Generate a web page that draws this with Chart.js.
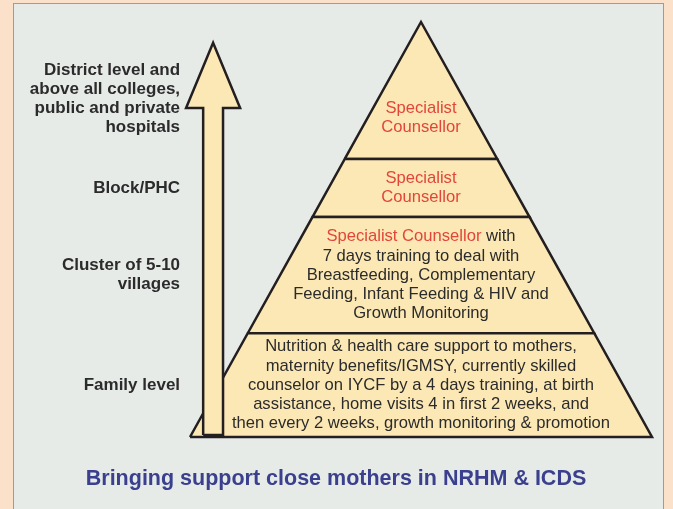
<!DOCTYPE html>
<html lang="en">
<head>
  <meta charset="UTF-8" />
  <title>Bringing support close mothers in NRHM &amp; ICDS</title>
  <script src="https://cdn.jsdelivr.net/npm/chart.js@4.4.1/dist/chart.umd.min.js"></script>
  <style>
    * { box-sizing: border-box; margin: 0; padding: 0; }
    body {
      width: 673px;
      height: 509px;
      overflow: hidden;
      background: #fbe1c9;
      position: relative;
    }
    .panel {
      position: absolute;
      left: 13px;
      top: 3px;
      width: 651px;
      height: 540px;
      background: #e7ebe8;
      border: 1px solid #9c9c98;
    }
    canvas {
      position: absolute;
      left: 0;
      top: 0;
    }
  </style>
</head>
<body>
  <div class="panel"></div>
  <canvas id="pyramid" width="673" height="509"></canvas>

  <script>
    // tier boundaries, bottom (0) to apex (100)
    const tierLevels = [0, 25, 53, 67, 100];

    // text inside each tier, bottom tier first
    const tierTexts = [
      ['Nutrition & health care support to mothers,',
       'maternity benefits/IGMSY, currently skilled',
       'counselor on IYCF by a 4 days training, at birth',
       'assistance, home visits 4 in first 2 weeks, and',
       'then every 2 weeks, growth monitoring & promotion'],
      ['Specialist Counsellor with',
       '7 days training to deal with',
       'Breastfeeding, Complementary',
       'Feeding, Infant Feeding & HIV and',
       'Growth Monitoring'],
      ['Specialist', 'Counsellor'],
      ['Specialist', 'Counsellor']
    ];

    // level names on the left, bottom tier first
    const levelLabels = [
      ['Family level'],
      ['Cluster of 5-10', 'villages'],
      ['Block/PHC'],
      ['District level and', 'above all colleges,', 'public and private', 'hospitals']
    ];

    const highlightTerms = ['Specialist Counsellor', 'Specialist', 'Counsellor'];

    // upward arrow: from level to level
    const arrowRange = [0.5, 95];
    const arrowX = -0.9;

    const chartTitle = 'Bringing support close mothers in NRHM & ICDS';

    const FILL = '#fce8b4';
    const INK = '#231f20';
    const TEXT = '#2b2b2b';
    const RED = '#e2453a';
    const BLUE = '#3a3f8e';

    function halfWidth(level) {
      return 1 - level / 100;
    }

    function tierPolygon(lo, hi) {
      return [
        { x: -halfWidth(lo), y: lo },
        { x: halfWidth(lo), y: lo },
        { x: halfWidth(hi), y: hi },
        { x: -halfWidth(hi), y: hi },
        { x: -halfWidth(lo), y: lo }
      ];
    }

    function arrowPolygon() {
      const shaft = 0.043, head = 0.117, headLen = 15.7;
      const [y0, y1] = arrowRange;
      const yh = y1 - headLen;
      return [
        { x: arrowX - shaft, y: y0 },
        { x: arrowX + shaft, y: y0 },
        { x: arrowX + shaft, y: yh },
        { x: arrowX + head, y: yh },
        { x: arrowX, y: y1 },
        { x: arrowX - head, y: yh },
        { x: arrowX - shaft, y: yh },
        { x: arrowX - shaft, y: y0 }
      ];
    }

    const shapeStyle = {
      showLine: true,
      fill: 'shape',
      backgroundColor: FILL,
      borderColor: INK,
      borderWidth: 2.5,
      borderJoinStyle: 'miter',
      pointRadius: 0,
      pointHoverRadius: 0,
      tension: 0,
      clip: false
    };

    const datasets = [];
    for (let i = 0; i < tierLevels.length - 1; i++) {
      datasets.push({ ...shapeStyle, data: tierPolygon(tierLevels[i], tierLevels[i + 1]), order: 2 });
    }
    datasets.push({ ...shapeStyle, data: arrowPolygon(), order: 1 });

    const splitRe = new RegExp('(' + highlightTerms.join('|') + ')');

    function drawMixedLine(ctx, line, cx, cy) {
      const parts = line.split(splitRe).filter(p => p.length);
      const total = parts.reduce((s, p) => s + ctx.measureText(p).width, 0);
      let x = cx - total / 2;
      ctx.textAlign = 'left';
      parts.forEach(p => {
        ctx.fillStyle = highlightTerms.includes(p) ? RED : TEXT;
        ctx.fillText(p, x, cy);
        x += ctx.measureText(p).width;
      });
    }

    const textPlugin = {
      id: 'pyramidText',
      afterDatasetsDraw(chart) {
        const { ctx, scales } = chart;
        const xs = scales.x, ys = scales.y;
        const lineH = 19.2;
        ctx.save();
        ctx.textBaseline = 'middle';

        const lastTier = tierLevels.length - 2;
        tierTexts.forEach((lines, i) => {
          const lo = tierLevels[i], hi = tierLevels[i + 1];
          const textLevel = i === lastTier ? lo + (hi - lo) * 0.3 : (lo + hi) / 2;
          const labelLevel = i === lastTier ? lo + (hi - lo) * 0.44 : (lo + hi) / 2;

          ctx.font = '16.6px "Liberation Sans", Arial, sans-serif';
          const cy = ys.getPixelForValue(textLevel);
          const cx = xs.getPixelForValue(0);
          lines.forEach((ln, k) => {
            drawMixedLine(ctx, ln, cx, cy + (k - (lines.length - 1) / 2) * lineH);
          });

          const labels = levelLabels[i];
          ctx.font = 'bold 17px "Liberation Sans", Arial, sans-serif';
          ctx.fillStyle = TEXT;
          ctx.textAlign = 'right';
          const ly = ys.getPixelForValue(labelLevel);
          const lx = xs.getPixelForValue(-1.043);
          labels.forEach((ln, k) => {
            ctx.fillText(ln, lx, ly + (k - (labels.length - 1) / 2) * lineH);
          });
        });

        ctx.font = 'bold 21.5px "Liberation Sans", Arial, sans-serif';
        ctx.fillStyle = BLUE;
        ctx.textAlign = 'center';
        ctx.fillText(chartTitle, 336, 479);
        ctx.restore();
      }
    };

    new Chart(document.getElementById('pyramid'), {
      type: 'scatter',
      data: { datasets },
      options: {
        responsive: false,
        animation: false,
        devicePixelRatio: 1,
        layout: { padding: { left: 190, right: 21, top: 22, bottom: 72 } },
        plugins: {
          legend: { display: false },
          tooltip: { enabled: false }
        },
        scales: {
          x: { type: 'linear', min: -1, max: 1, display: false },
          y: { type: 'linear', min: 0, max: 100, display: false }
        }
      },
      plugins: [textPlugin]
    });
  </script>
</body>
</html>
